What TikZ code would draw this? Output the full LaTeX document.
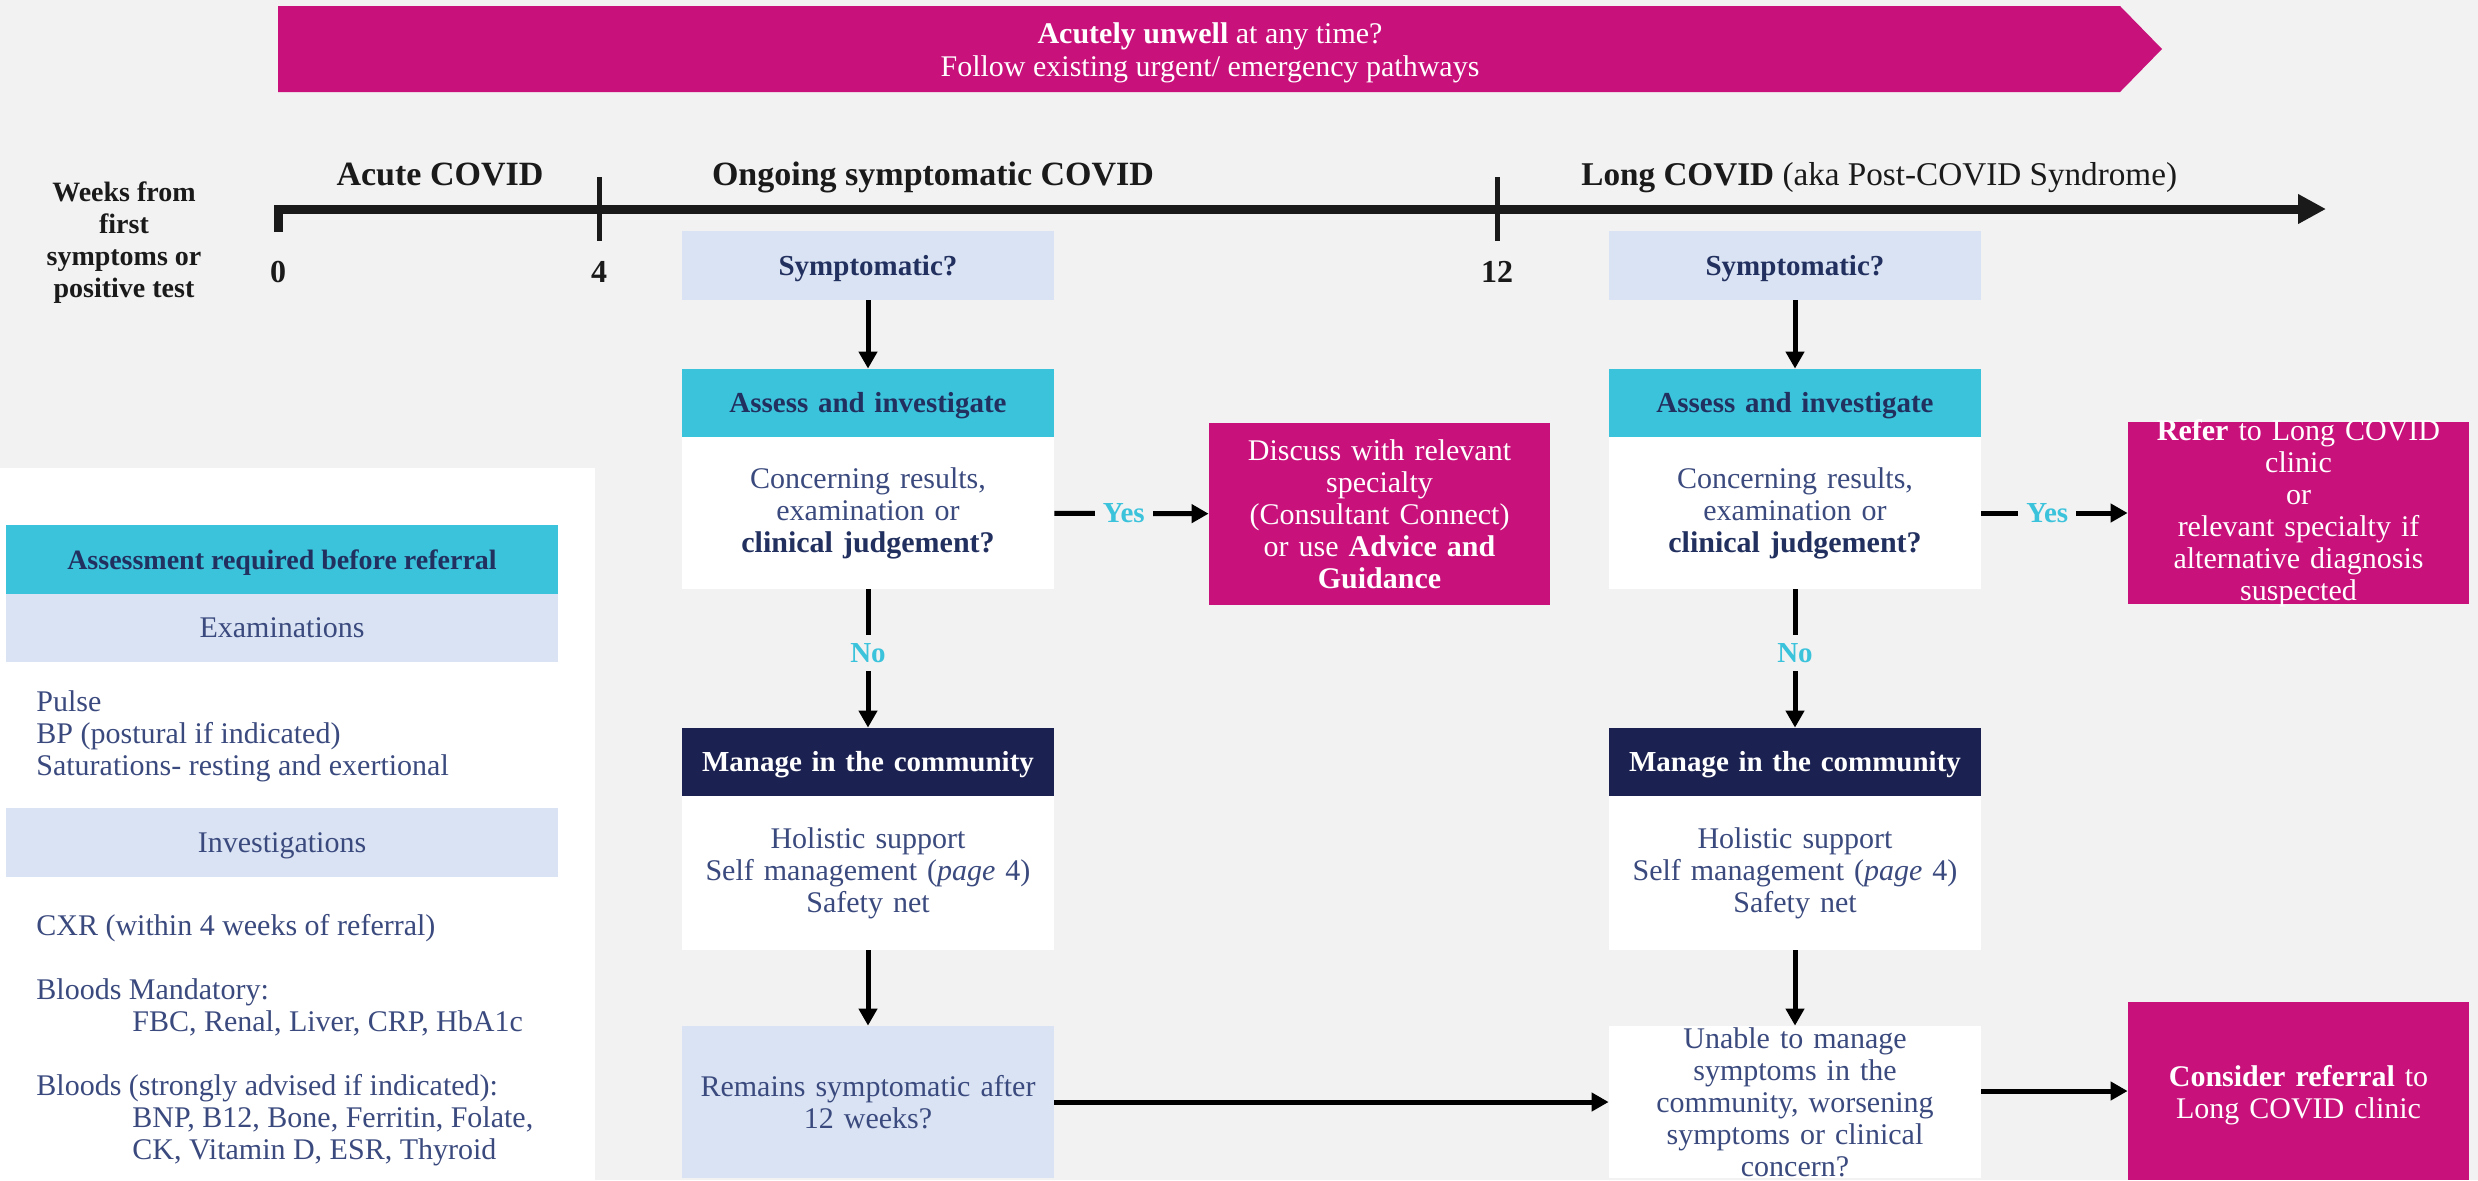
\documentclass[tikz,border=0pt]{standalone}
\usepackage{fontspec}
\setmainfont{Liberation Serif}
\usetikzlibrary{arrows.meta}
\definecolor{bg}{HTML}{F2F2F2}
\definecolor{mag}{HTML}{C8117A}
\definecolor{cyanb}{HTML}{3CC3DC}
\definecolor{lblue}{HTML}{DAE3F3}
\definecolor{navy}{HTML}{1B2150}
\definecolor{tnavy}{HTML}{22305F}
\definecolor{lnavy}{HTML}{3B4A7E}
\definecolor{ink}{HTML}{1A1A1A}
\begin{document}
\begin{tikzpicture}[x=0.5pt,y=-0.5pt,
  box/.style={rectangle,inner sep=0pt,minimum width=186pt,text width=180pt,align=center},
  onel/.style={text height=9.6pt,text depth=0pt},
  qbox/.style={box,onel,fill=lblue,minimum height=34.5pt,text=tnavy,font=\fontsize{14.5}{16}\selectfont\bfseries},
  hbox/.style={box,onel,fill=cyanb,minimum height=34pt,text=tnavy,font=\fontsize{14.5}{16}\selectfont\bfseries},
  mbox/.style={box,onel,fill=navy,minimum height=34pt,text=white,font=\fontsize{14.5}{16}\selectfont\bfseries},
  wbox/.style={box,fill=white,minimum height=76pt,text=lnavy,font=\fontsize{15}{16}\selectfont},
  lbbox/.style={box,fill=lblue,minimum height=76pt,text=lnavy,font=\fontsize{15}{16}\selectfont},
  pbox/.style={rectangle,inner sep=0pt,fill=mag,minimum width=170.5pt},
  ptext/.style={text=white,align=center,text width=166pt,inner sep=0pt,font=\fontsize{15}{16}\selectfont},
  conn/.style={line width=2.5pt,-{Triangle[width=9pt,length=8.5pt]}},
  lab/.style={fill=bg,text=cyanb,font=\fontsize{14.5}{16}\selectfont\bfseries,inner sep=4pt},
  tlhead/.style={anchor=base,text=ink,inner sep=0pt,font=\fontsize{17}{19}\selectfont\bfseries},
  tlnum/.style={anchor=base,text=ink,inner sep=0pt,font=\fontsize{16}{18}\selectfont\bfseries},
  panelband/.style={rectangle,inner sep=0pt,minimum width=276pt,minimum height=34.5pt,text height=9.6pt,text depth=0pt},
  paneltext/.style={anchor=west,align=left,inner sep=0pt,text=lnavy,font=\fontsize{15}{16}\selectfont},
]
% background and bounding box
\fill[bg] (0,0) rectangle (2478,1180);
\useasboundingbox (0,0) rectangle (2478,1180);

% banner
\fill[mag] (278,6) -- (2120,6) -- (2162,49) -- (2120,92) -- (278,92) -- cycle;
\node[anchor=base,text=white,inner sep=0pt,font=\fontsize{15}{17}\selectfont] (banA) at (1210,43) {\textbf{Acutely unwell} at any time?};
\node[anchor=base,text=white,inner sep=0pt,font=\fontsize{15}{17}\selectfont] (banB) at (1210,76) {Follow existing urgent/ emergency pathways};

% timeline
\draw[line width=4.5pt,ink,-{Triangle[width=14pt,length=14pt]}] (278,232) -- (278,209) -- (2326,209);
\draw[line width=2.5pt,ink] (599,177) -- (599,241);
\draw[line width=2.5pt,ink] (1497,177) -- (1497,241);
\node[tlnum] (n0) at (278,282) {0};
\node[tlnum] (n4) at (599,282) {4};
\node[tlnum] (n12) at (1497,282) {12};
\node[tlhead] (acute) at (440,185) {Acute COVID};
\node[tlhead] (ongoing) at (933,185) {Ongoing symptomatic COVID};
\node[tlhead,anchor=base west,font=\fontsize{16.6}{19}\selectfont\bfseries] (long) at (1581,185) {Long COVID\mdseries\ (aka Post-COVID Syndrome)};
\node[align=center,text=ink,inner sep=0pt,font=\fontsize{14}{16}\selectfont\bfseries] (weeks) at (124,243) {Weeks from\\first\\symptoms or\\positive test};

% left panel
\fill[white] (0,468) rectangle (595,1180);
\node[panelband,fill=cyanb,text=tnavy,font=\fontsize{14}{16}\selectfont\bfseries] (ph) at (282,559.5) {Assessment required before referral};
\node[panelband,fill=lblue,text=lnavy,font=\fontsize{15}{16}\selectfont,minimum height=34pt] (pex) at (282,628) {Examinations};
\node[panelband,fill=lblue,text=lnavy,font=\fontsize{15}{16}\selectfont,minimum height=34.5pt] (pinv) at (282,842.5) {Investigations};
\node[paneltext] (pulse) at (36,736) {Pulse\\BP (postural if indicated)\\Saturations- resting and exertional};
\node[paneltext] (cxr) at (36,928) {CXR (within 4 weeks of referral)};
\node[paneltext] (bm) at (36,1007) {Bloods Mandatory:\\\hspace*{48pt}FBC, Renal, Liver, CRP, HbA1c};
\node[paneltext] (bs) at (36,1120) {Bloods (strongly advised if indicated):\\\hspace*{48pt}BNP, B12, Bone, Ferritin, Folate,\\\hspace*{48pt}CK, Vitamin D, ESR, Thyroid};

% column 1
\node[qbox] (S1) at (868,265.5) {Symptomatic?};
\node[hbox] (A1h) at (868,403) {Assess and investigate};
\node[wbox] (A1b) at (868,513) {Concerning results,\\examination or\\\textbf{\color{tnavy}clinical judgement?}};
\node[mbox] (M1h) at (868,762) {Manage in the community};
\node[wbox,minimum height=77pt] (M1b) at (868,873) {Holistic support\\Self management (\textit{page} 4)\\Safety net};
\node[lbbox] (R1) at (868,1102) {Remains symptomatic after\\12 weeks?};
\node[pbox,minimum height=91pt] (D1) at (1379.5,514) {};
\node[ptext] (D1t) at (D1.center) {Discuss with relevant\\specialty\\(Consultant Connect)\\or use \textbf{Advice and}\\\textbf{Guidance}};

% column 2
\node[qbox] (S2) at (1795,265.5) {Symptomatic?};
\node[hbox] (A2h) at (1795,403) {Assess and investigate};
\node[wbox] (A2b) at (1795,513) {Concerning results,\\examination or\\\textbf{\color{tnavy}clinical judgement?}};
\node[mbox] (M2h) at (1795,762) {Manage in the community};
\node[wbox,minimum height=77pt] (M2b) at (1795,873) {Holistic support\\Self management (\textit{page} 4)\\Safety net};
\node[wbox] (U2) at (1795,1102) {Unable to manage\\symptoms in the\\community, worsening\\symptoms or clinical\\concern?};
\node[pbox,minimum height=91pt] (D2) at (2298.5,513) {};
\node[ptext] (D2t) at (D2.center) {\textbf{Refer} to Long COVID\\clinic\\or\\relevant specialty if\\alternative diagnosis\\suspected};
\node[pbox,minimum height=89pt] (C2) at (2298.5,1091) {};
\node[ptext] (C2t) at (2298.5,1095) {\textbf{Consider referral} to\\Long COVID clinic};

% connectors
\draw[conn] (S1) -- (A1h);
\draw[conn] (A1b) -- node[lab,pos=0.45] (yes1) {Yes} (D1);
\draw[conn] (A1b) -- node[lab,pos=0.46] (no1) {No} (M1h);
\draw[conn] (M1b) -- (R1);
\draw[conn] (R1) -- (U2);
\draw[conn] (S2) -- (A2h);
\draw[conn] (A2b) -- node[lab,pos=0.45] (yes2) {Yes} (D2);
\draw[conn] (A2b) -- node[lab,pos=0.46] (no2) {No} (M2h);
\draw[conn] (M2b) -- (U2);
\draw[conn] (U2.east |- C2.west) -- (C2.west);
\end{tikzpicture}
\end{document}
